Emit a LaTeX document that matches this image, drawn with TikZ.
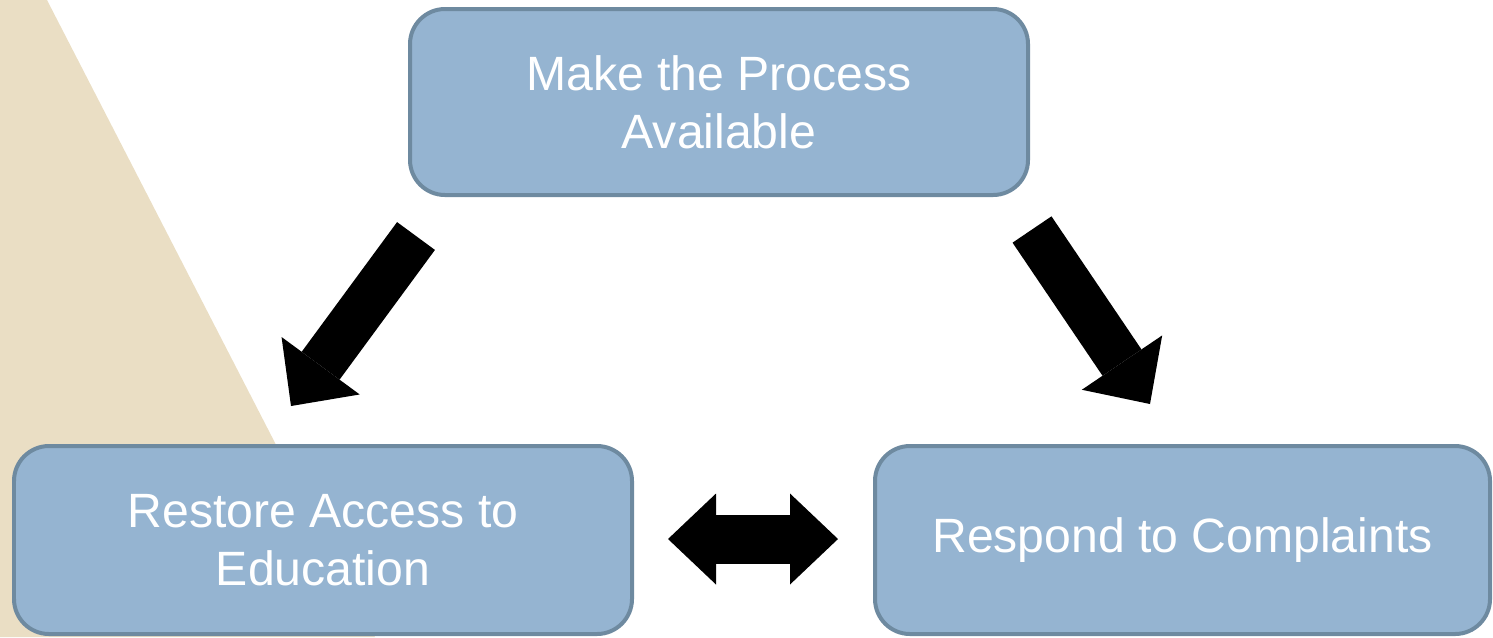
\documentclass[tikz,border=0pt]{standalone}
\usepackage{fontspec}
\setmainfont{Liberation Sans}
\usepackage{tikz}
\usetikzlibrary{arrows.meta}

\definecolor{boxfill}{RGB}{149,180,209}
\definecolor{boxline}{RGB}{110,138,160}
\definecolor{sand}{RGB}{234,222,196}

\begin{document}
\begin{tikzpicture}[
        stepbox/.style={draw=boxline, line width=0.04cm, fill=boxfill, rounded corners=0.35cm,
            minimum width=6.18cm, minimum height=1.86cm, align=center, text=white,
            font=\fontsize{13.7}{16.5}\selectfont},
        bigarrow/.style={line width=0.47cm, -{Triangle[length=0.5cm, width=0.97cm, line width=0pt]}},
        twoway/.style={line width=0.49cm, {Triangle[length=0.48cm, width=0.91cm, line width=0pt]}-{Triangle[length=0.48cm, width=0.91cm, line width=0pt]}}
    ]
            \useasboundingbox (0,0) rectangle (14.93,-6.37);

            % Background wedge
            \fill[sand] (0,0) -- (0.47,0) -- (3.75,-6.37) -- (0,-6.37) -- cycle;

            % Boxes
            \node[stepbox] (avail) at (7.19,-1.02) {Make the Process\\Available};
            \node[stepbox, minimum height=1.88cm] (restore) at (3.23,-5.40) {Restore Access to\\Education};
            \node[stepbox, minimum width=6.15cm, minimum height=1.88cm] (respond) at (11.825,-5.40) {Respond to Complaints};

            % Arrow ends
            \coordinate (lt) at (4.16,-2.36);
            \coordinate (lh) at (2.91,-4.06);
            \coordinate (rt) at (10.32,-2.295);
            \coordinate (rh) at (11.50,-4.04);
            \coordinate (ml) at (6.68,-5.39);
            \coordinate (mr) at (8.38,-5.39);

            % Arrows
            \draw[bigarrow] (lt) -- (lh);
            \draw[bigarrow] (rt) -- (rh);
            \draw[twoway] (ml) -- (mr);
\end{tikzpicture}
\end{document}
